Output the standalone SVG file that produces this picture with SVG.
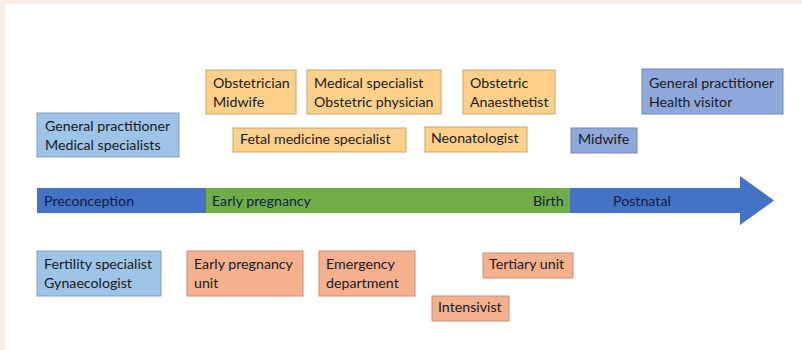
<svg xmlns="http://www.w3.org/2000/svg" width="802" height="350" viewBox="0 0 802 350">
<style>
text{font-family:Lato,"Liberation Sans",sans-serif;font-size:14.2px;fill:#1a1a1a}
.o{fill:#fdd18c;stroke:#c8a46a;stroke-width:1}
.s{fill:#f5b08e;stroke:#c8907a;stroke-width:1}
.lb{fill:#9dc3e6;stroke:#7f9fbf;stroke-width:1}
.pb{fill:#8fa8dc;stroke:#7088b8;stroke-width:1}
.at{fill:#10204a}
</style>
<rect x="0" y="0" width="802" height="350" fill="#ffffff"/>
<rect x="0" y="0" width="802" height="4" fill="#f8ece7"/>
<rect x="0" y="0" width="5" height="350" fill="#f8ece7"/>

<g id="timeline">
<rect x="37" y="188" width="169" height="25" fill="#4472c4"/>
<rect x="206" y="188" width="364" height="25" fill="#70ad47"/>
<polygon points="570,188 740,188 740,176 774,200.5 740,225 740,213 570,213" fill="#4472c4"/>
<text class="at" x="44" y="206">Preconception</text>
<text class="at" x="212" y="206">Early pregnancy</text>
<text class="at" x="533" y="206">Birth</text>
<text class="at" x="613" y="206">Postnatal</text>
</g>

<g id="connectors"></g>

<g id="obstetrician"><rect class="o" x="206" y="70" width="90" height="44"/><text x="213" y="88">Obstetrician</text><text x="213" y="107">Midwife</text></g>
<g id="medspec"><rect class="o" x="307" y="70" width="134" height="44"/><text x="314" y="88">Medical specialist</text><text x="314" y="107">Obstetric physician</text></g>
<g id="anaesthetist"><rect class="o" x="463" y="70" width="92" height="44"/><text x="470" y="88">Obstetric</text><text x="470" y="107">Anaesthetist</text></g>
<g id="gp-hv"><rect class="pb" x="642" y="69" width="141" height="45"/><text x="649" y="88">General practitioner</text><text x="649" y="107">Health visitor</text></g>
<g id="gp-ms"><rect class="lb" x="37" y="113" width="142" height="44"/><text x="45" y="131">General practitioner</text><text x="45" y="150">Medical specialists</text></g>
<g id="fetal"><rect class="o" x="233" y="128" width="173" height="24"/><text x="240" y="144">Fetal medicine specialist</text></g>
<g id="neonatologist"><rect class="o" x="425" y="127" width="102" height="25"/><text x="431" y="143">Neonatologist</text></g>
<g id="midwife"><rect class="pb" x="571" y="128" width="66" height="25"/><text x="578" y="144">Midwife</text></g>

<g id="fertility"><rect class="lb" x="37" y="251" width="124" height="45"/><text x="44" y="269">Fertility specialist</text><text x="44" y="288">Gynaecologist</text></g>
<g id="epu"><rect class="s" x="187" y="251" width="116" height="45"/><text x="194" y="269">Early pregnancy</text><text x="194" y="288">unit</text></g>
<g id="ed"><rect class="s" x="319" y="251" width="96" height="45"/><text x="326" y="269">Emergency</text><text x="326" y="288">department</text></g>
<g id="tertiary"><rect class="s" x="483" y="253" width="90" height="25"/><text x="489" y="269">Tertiary unit</text></g>
<g id="intensivist"><rect class="s" x="432" y="296" width="77" height="25"/><text x="438" y="312">Intensivist</text></g>
</svg>
